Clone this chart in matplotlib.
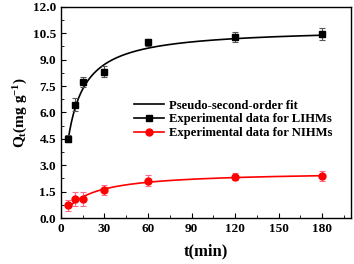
import numpy as np
import matplotlib
matplotlib.use('Agg')
import matplotlib.pyplot as plt
from matplotlib.lines import Line2D
from matplotlib.ticker import MultipleLocator

plt.rcParams['font.family'] = 'Liberation Serif'
plt.rcParams['font.weight'] = 'bold'
plt.rcParams['mathtext.fontset'] = 'custom'
plt.rcParams['mathtext.rm'] = 'Liberation Serif:bold'
plt.rcParams['mathtext.it'] = 'Liberation Serif:bold'
plt.rcParams['mathtext.bf'] = 'Liberation Serif:bold'

# experimental data
t = [5, 10, 15, 30, 60, 120, 180]
q_lihm = [4.5, 6.45, 7.72, 8.32, 10.0, 10.3, 10.45]
err_lihm = [0.2, 0.35, 0.3, 0.3, 0.2, 0.3, 0.35]
q_nihm = [0.72, 1.08, 1.08, 1.6, 2.12, 2.35, 2.4]
err_nihm = [0.3, 0.38, 0.38, 0.3, 0.3, 0.2, 0.3]

# pseudo-second-order fit parameters (qe, k)
qe_lihm, k_lihm = 10.8, 0.013
qe_nihm, k_nihm = 2.65, 0.0208


def pso(tt, qe, k):
    return qe**2 * k * tt / (1 + qe * k * tt)


fig = plt.figure(figsize=(3.54, 2.64), dpi=100)
ax = fig.add_axes([0.172, 0.174, 0.82, 0.8])

tf = np.linspace(5, 180, 300)
ax.plot(tf, pso(tf, qe_lihm, k_lihm), color='black', lw=1.2)
ax.plot(tf, pso(tf, qe_nihm, k_nihm), color='red', lw=1.2)

ax.errorbar(t, q_lihm, yerr=err_lihm, fmt='s', color='black', ms=4.5,
            ecolor='#555555', elinewidth=0.8, capsize=2, capthick=0.8)
ax.errorbar(t, q_nihm, yerr=err_nihm, fmt='o', color='red', ms=5,
            ecolor='#ff6b8a', elinewidth=0.8, capsize=2, capthick=0.8)

ax.set_xlim(0, 200)
ax.set_ylim(0, 12)
ax.xaxis.set_major_locator(MultipleLocator(30))
ax.xaxis.set_minor_locator(MultipleLocator(15))
ax.yaxis.set_major_locator(MultipleLocator(1.5))
ax.yaxis.set_minor_locator(MultipleLocator(0.75))
ax.yaxis.set_major_formatter(matplotlib.ticker.FormatStrFormatter('%.1f'))
ax.tick_params(which='both', direction='in', top=False, right=False,
               labelsize=9.5)
ax.tick_params(which='major', length=3.5)
ax.tick_params(which='minor', length=2)
for s in ax.spines.values():
    s.set_linewidth(1.0)

ax.set_xlabel('t(min)', fontsize=12, fontweight='bold', labelpad=6)
ax.set_ylabel('Q$_t$(mg g$^{-1}$)', fontsize=11, fontweight='bold', labelpad=2)

handles = [
    Line2D([], [], color='black', lw=1.2),
    Line2D([], [], color='black', lw=1.2, marker='s', ms=4.5),
    Line2D([], [], color='red', lw=1.2, marker='o', ms=5),
]
labels = ['Pseudo-second-order fit', 'Experimental data for LIHMs',
          'Experimental data for NIHMs']
ax.legend(handles, labels, loc='upper left', bbox_to_anchor=(0.235, 0.585),
          frameon=False, fontsize=9.1, handlelength=2.4, handletextpad=0.35,
          labelspacing=0.15, borderaxespad=0)

fig.savefig('out.png', dpi=100)
